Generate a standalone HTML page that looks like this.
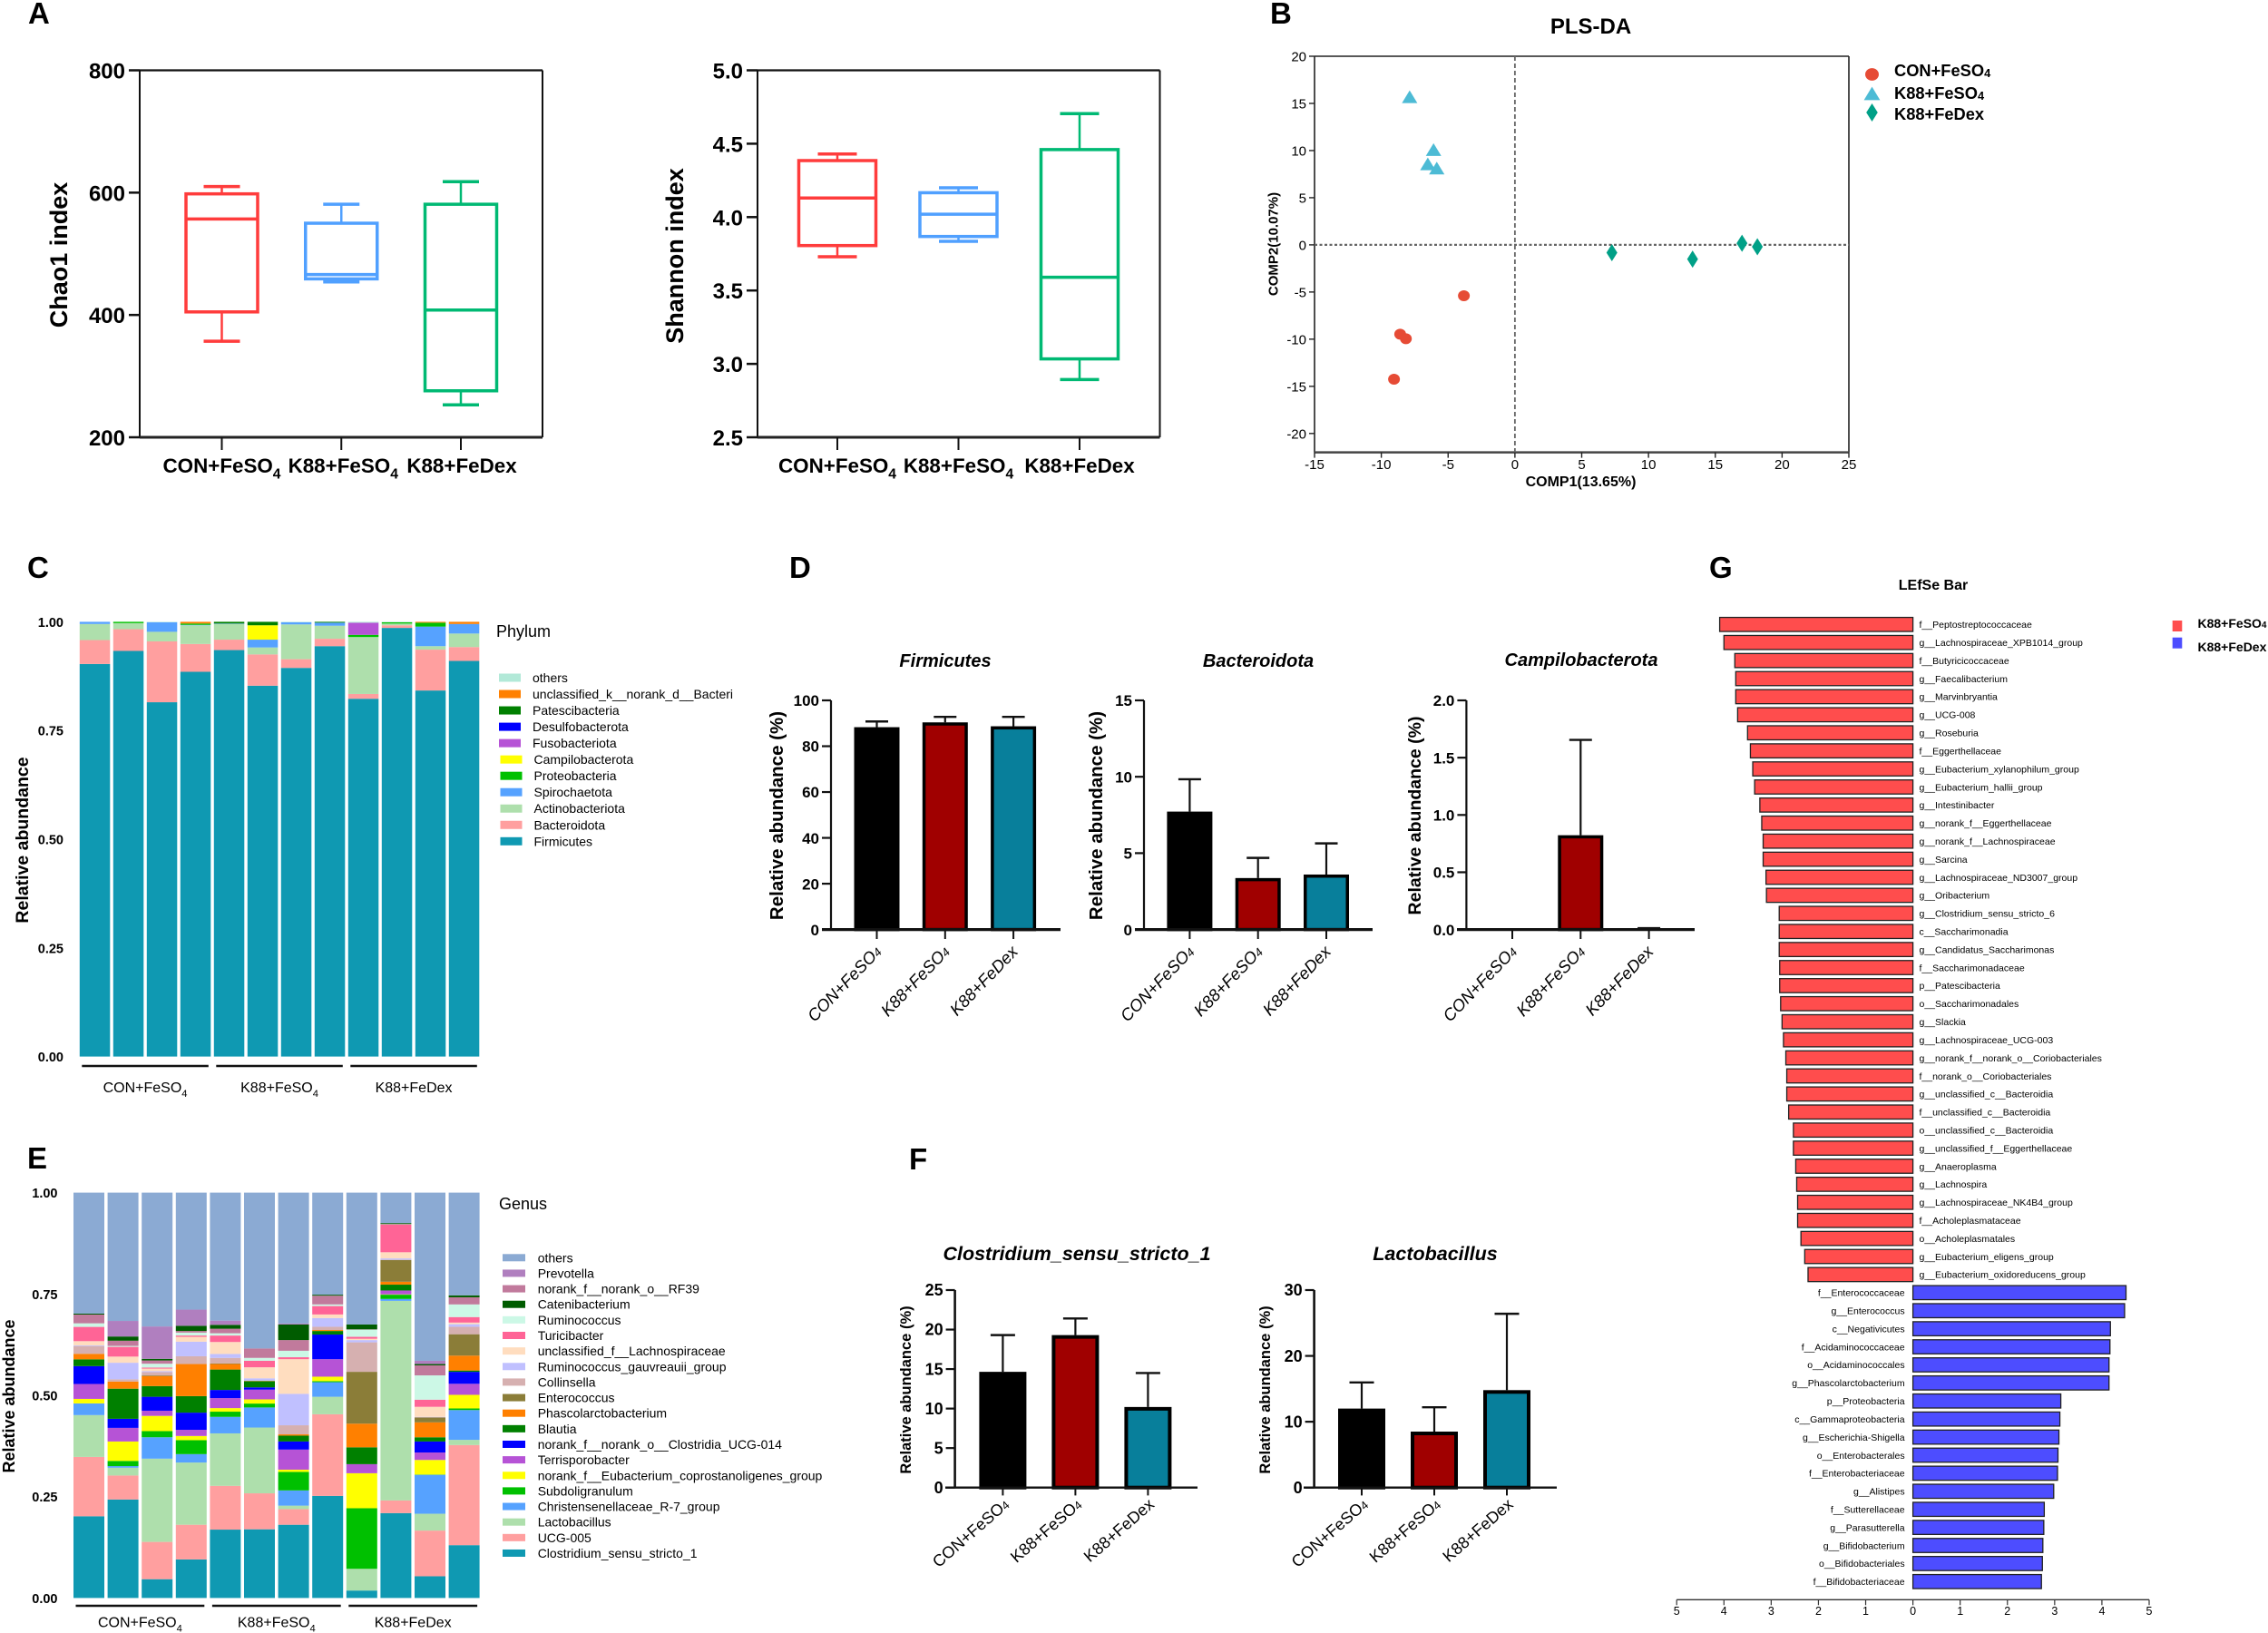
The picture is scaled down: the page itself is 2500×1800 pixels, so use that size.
<!DOCTYPE html>
<html lang="en">
<head>
<meta charset="utf-8">
<title>Gut microbiota composition panels</title>
<style>
html,body{margin:0;padding:0;background:#fff;}
svg{display:block;font-family:"Liberation Sans",Arial,sans-serif;}
</style>
</head>
<body>
<svg id="figure" xmlns="http://www.w3.org/2000/svg" width="2500" height="1800" viewBox="0 0 2500 1800">
<rect x="0" y="0" width="2500" height="1800" fill="#ffffff"/>

<g id="panel-a">
  <text x="31" y="26" font-size="33" font-weight="bold">A</text>
  <text transform="translate(74 281) rotate(-90)" text-anchor="middle" font-size="27" font-weight="bold">Chao1 index</text>
  <text transform="translate(753 282) rotate(-90)" text-anchor="middle" font-size="27" font-weight="bold">Shannon index</text>
</g>

<g id="panel-b">
  <text x="1400" y="26" font-size="33" font-weight="bold">B</text>
  <text x="1753.5" y="37" text-anchor="middle" font-size="24" font-weight="bold">PLS-DA</text>
  <text x="1742.5" y="536" text-anchor="middle" font-size="16" font-weight="bold">COMP1(13.65%)</text>
  <text transform="translate(1408.5 269) rotate(-90)" text-anchor="middle" font-size="15" font-weight="bold">COMP2(10.07%)</text>
</g>

<g id="panel-c">
  <text x="30" y="637" font-size="33" font-weight="bold">C</text>
  <text transform="translate(31 926) rotate(-90)" text-anchor="middle" font-size="19.5" font-weight="bold">Relative abundance</text>
  <text x="547" y="702" font-size="18">Phylum</text>
</g>

<g id="panel-d">
  <text x="870" y="637" font-size="33" font-weight="bold">D</text>
  <text x="1042" y="735" text-anchor="middle" font-size="20" font-weight="bold" font-style="italic">Firmicutes</text>
  <text x="1387" y="735" text-anchor="middle" font-size="20" font-weight="bold" font-style="italic">Bacteroidota</text>
  <text x="1743" y="734" text-anchor="middle" font-size="20" font-weight="bold" font-style="italic">Campilobacterota</text>
  <text transform="translate(863 899) rotate(-90)" text-anchor="middle" font-size="20.5" font-weight="bold">Relative abundance (%)</text>
  <text transform="translate(1215 899) rotate(-90)" text-anchor="middle" font-size="20.5" font-weight="bold">Relative abundance (%)</text>
  <text transform="translate(1566 899) rotate(-90)" text-anchor="middle" font-size="19.5" font-weight="bold">Relative abundance (%)</text>
</g>

<g id="panel-e">
  <text x="30" y="1288" font-size="33" font-weight="bold">E</text>
  <text transform="translate(16 1539) rotate(-90)" text-anchor="middle" font-size="18" font-weight="bold">Relative abundance</text>
  <text x="550" y="1333" font-size="18">Genus</text>
</g>

<g id="panel-f">
  <text x="1002" y="1289" font-size="33" font-weight="bold">F</text>
  <text x="1187" y="1389" text-anchor="middle" font-size="21.5" font-weight="bold" font-style="italic">Clostridium_sensu_stricto_1</text>
  <text x="1582" y="1389" text-anchor="middle" font-size="21.5" font-weight="bold" font-style="italic">Lactobacillus</text>
  <text transform="translate(1004 1532) rotate(-90)" text-anchor="middle" font-size="16.5" font-weight="bold">Relative abundance (%)</text>
  <text transform="translate(1400 1532) rotate(-90)" text-anchor="middle" font-size="16.5" font-weight="bold">Relative abundance (%)</text>
</g>

<g id="panel-g">
  <text x="1884" y="637" font-size="33" font-weight="bold">G</text>
  <text x="2131" y="650" text-anchor="middle" font-size="16" font-weight="bold">LEfSe Bar</text>
</g>
</svg>

<script>
/* ---------- Shared categories ---------- */
const groups = ['CON+FeSO4', 'K88+FeSO4', 'K88+FeDex'];

/* ---------- Panel A: box plots ---------- */
const chao1Ticks = [200, 400, 600, 800];
const chao1Low = [357, 454, 253];
const chao1Q1 = [405, 459, 276];
const chao1Median = [557, 466, 408];
const chao1Q3 = [598, 550, 581];
const chao1High = [610, 581, 618];

const shannonTicks = ['2.5', '3.0', '3.5', '4.0', '4.5', '5.0'];
const shannonLow = [3.73, 3.835, 2.893];
const shannonQ1 = [3.806, 3.868, 3.034];
const shannonMedian = [4.13, 4.02, 3.59];
const shannonQ3 = [4.385, 4.166, 4.46];
const shannonHigh = [4.43, 4.20, 4.705];

/* ---------- Panel B: PLS-DA scatter ---------- */
const plsTicksX = [-15, -10, -5, 0, 5, 10, 15, 20, 25];
const plsTicksY = [-20, -15, -10, -5, 0, 5, 10, 15, 20];
const conComp1 = [-3.82, -8.59, -8.16, -9.05];
const conComp2 = [-5.4, -9.47, -9.95, -14.25];
const k88FeSO4Comp1 = [-7.88, -6.09, -6.52, -5.85];
const k88FeSO4Comp2 = [15.66, 10.05, 8.54, 8.09];
const k88FeDexComp1 = [7.26, 13.3, 17.0, 18.15];
const k88FeDexComp2 = [-0.83, -1.51, 0.17, -0.2];

/* ---------- Panel C: phylum stacks (per-mille of each sample, bottom to top) ---------- */
const stackTicks = ['0.00', '0.25', '0.50', '0.75', '1.00'];
const phylumNames = ['Firmicutes', 'Bacteroidota', 'Actinobacteriota', 'Spirochaetota', 'Proteobacteria', 'Campilobacterota', 'Fusobacteriota', 'Desulfobacterota', 'Patescibacteria', 'unclassified_k__norank_d__Bacteri', 'others'];
const phylumValues = [
  [903, 55, 37, 5, 0, 0, 0, 0, 0, 0, 0],
  [933, 50, 14, 0, 3, 0, 0, 0, 0, 0, 0],
  [815, 140, 22, 22, 0, 0, 0, 0, 0, 0, 1],
  [885, 64, 43, 1, 3, 0, 0, 0, 0, 4, 0],
  [935, 24, 36, 1, 0, 0, 0, 0, 4, 0, 0],
  [853, 72, 16, 18, 0, 33, 0, 0, 8, 0, 0],
  [894, 20, 80, 5, 0, 0, 0, 0, 0, 0, 1],
  [944, 17, 30, 7, 0, 0, 0, 0, 2, 0, 0],
  [823, 11, 131, 0, 5, 0, 28, 0, 0, 0, 2],
  [986, 6, 4, 0, 3, 0, 0, 0, 0, 0, 1],
  [842, 94, 8, 45, 9, 0, 0, 0, 0, 2, 0],
  [910, 32, 31, 22, 0, 0, 0, 0, 0, 5, 0]
];

/* ---------- Panel D: phylum mean bars ---------- */
const firmicutesTicks = [0, 20, 40, 60, 80, 100];
const firmicutesMean = [88.3, 90.4, 88.7];
const firmicutesErr = [2.5, 2.4, 4.1];
const bacteroidotaTicks = [0, 5, 10, 15];
const bacteroidotaMean = [7.72, 3.37, 3.6];
const bacteroidotaErr = [2.12, 1.32, 2.04];
const campiloTicks = ['0.0', '0.5', '1.0', '1.5', '2.0'];
const campiloMean = [0, 0.823, 0.005];
const campiloErr = [0, 0.832, 0.007];

/* ---------- Panel E: genus stacks (relative units per sample, bottom to top) ---------- */
const genusNames = ['Clostridium_sensu_stricto_1', 'UCG-005', 'Lactobacillus', 'Christensenellaceae_R-7_group', 'Subdoligranulum', 'norank_f__Eubacterium_coprostanoligenes_group', 'Terrisporobacter', 'norank_f__norank_o__Clostridia_UCG-014', 'Blautia', 'Phascolarctobacterium', 'Enterococcus', 'Collinsella', 'Ruminococcus_gauvreauii_group', 'unclassified_f__Lachnospiraceae', 'Turicibacter', 'Ruminococcus', 'norank_f__norank_o__RF39', 'Catenibacterium', 'Prevotella', 'others'];
const genusValues = [
  [252, 183, 129, 36, 0, 14, 46, 55, 21, 17, 0, 24, 2, 13, 44, 11, 27, 3, 0, 373],
  [304, 74, 24, 5, 16, 60, 42, 28, 93, 22, 0, 7, 51, 19, 30, 3, 16, 13, 48, 396],
  [58, 115, 257, 66, 19, 47, 16, 43, 33, 31, 2, 10, 3, 8, 3, 12, 10, 5, 100, 413],
  [119, 107, 192, 26, 43, 13, 19, 53, 51, 99, 0, 24, 45, 15, 4, 9, 5, 16, 50, 361],
  [211, 135, 162, 51, 16, 11, 31, 25, 63, 17, 2, 17, 12, 37, 20, 7, 14, 12, 13, 395],
  [212, 111, 203, 62, 12, 13, 30, 7, 19, 1, 0, 1, 7, 34, 20, 9, 29, 0, 0, 481],
  [226, 48, 11, 47, 57, 7, 62, 25, 18, 4, 0, 28, 97, 107, 6, 20, 33, 48, 3, 404],
  [315, 252, 54, 45, 3, 14, 54, 76, 11, 3, 0, 10, 27, 11, 26, 5, 27, 3, 0, 315],
  [23, 0, 67, 0, 187, 108, 28, 0, 52, 73, 160, 91, 7, 4, 6, 22, 1, 15, 0, 407],
  [262, 39, 616, 6, 13, 1, 12, 0, 18, 9, 67, 1, 4, 19, 86, 1, 0, 3, 0, 94],
  [67, 141, 52, 120, 1, 45, 23, 34, 13, 46, 15, 1, 1, 31, 22, 75, 31, 4, 10, 519],
  [163, 309, 16, 92, 5, 42, 34, 37, 4, 46, 66, 23, 8, 5, 17, 39, 22, 6, 0, 317]
];
const genusLegendOrder = ['others', 'Prevotella', 'norank_f__norank_o__RF39', 'Catenibacterium', 'Ruminococcus', 'Turicibacter', 'unclassified_f__Lachnospiraceae', 'Ruminococcus_gauvreauii_group', 'Collinsella', 'Enterococcus', 'Phascolarctobacterium', 'Blautia', 'norank_f__norank_o__Clostridia_UCG-014', 'Terrisporobacter', 'norank_f__Eubacterium_coprostanoligenes_group', 'Subdoligranulum', 'Christensenellaceae_R-7_group', 'Lactobacillus', 'UCG-005', 'Clostridium_sensu_stricto_1'];

/* ---------- Panel F: genus mean bars ---------- */
const clostridiumTicks = [0, 5, 10, 15, 20, 25];
const clostridiumMean = [14.65, 19.3, 10.2];
const clostridiumErr = [4.65, 2.1, 4.3];
const lactobacillusTicks = [0, 10, 20, 30];
const lactobacillusMean = [12.0, 8.5, 14.8];
const lactobacillusErr = [3.97, 3.7, 11.6];

/* ---------- Panel G: LEfSe ---------- */
const lefseTicks = [-5, -4, -3, -2, -1, 0, 1, 2, 3, 4, 5];
const lefseRedLabels = ['f__Peptostreptococcaceae', 'g__Lachnospiraceae_XPB1014_group', 'f__Butyricicoccaceae', 'g__Faecalibacterium', 'g__Marvinbryantia', 'g__UCG-008', 'g__Roseburia', 'f__Eggerthellaceae', 'g__Eubacterium_xylanophilum_group', 'g__Eubacterium_hallii_group', 'g__Intestinibacter', 'g__norank_f__Eggerthellaceae', 'g__norank_f__Lachnospiraceae', 'g__Sarcina', 'g__Lachnospiraceae_ND3007_group', 'g__Oribacterium', 'g__Clostridium_sensu_stricto_6', 'c__Saccharimonadia', 'g__Candidatus_Saccharimonas', 'f__Saccharimonadaceae', 'p__Patescibacteria', 'o__Saccharimonadales', 'g__Slackia', 'g__Lachnospiraceae_UCG-003', 'g__norank_f__norank_o__Coriobacteriales', 'f__norank_o__Coriobacteriales', 'g__unclassified_c__Bacteroidia', 'f__unclassified_c__Bacteroidia', 'o__unclassified_c__Bacteroidia', 'g__unclassified_f__Eggerthellaceae', 'g__Anaeroplasma', 'g__Lachnospira', 'g__Lachnospiraceae_NK4B4_group', 'f__Acholeplasmataceae', 'o__Acholeplasmatales', 'g__Eubacterium_eligens_group', 'g__Eubacterium_oxidoreducens_group'];
const lefseRedValues = [4.09, 4.0, 3.77, 3.75, 3.75, 3.71, 3.50, 3.44, 3.39, 3.35, 3.24, 3.20, 3.17, 3.17, 3.11, 3.10, 2.83, 2.83, 2.83, 2.82, 2.82, 2.80, 2.77, 2.74, 2.69, 2.67, 2.67, 2.63, 2.53, 2.53, 2.48, 2.46, 2.44, 2.44, 2.37, 2.29, 2.22];
const lefseBlueLabels = ['f__Enterococcaceae', 'g__Enterococcus', 'c__Negativicutes', 'f__Acidaminococcaceae', 'o__Acidaminococcales', 'g__Phascolarctobacterium', 'p__Proteobacteria', 'c__Gammaproteobacteria', 'g__Escherichia-Shigella', 'o__Enterobacterales', 'f__Enterobacteriaceae', 'g__Alistipes', 'f__Sutterellaceae', 'g__Parasutterella', 'g__Bifidobacterium', 'o__Bifidobacteriales', 'f__Bifidobacteriaceae'];
const lefseBlueValues = [4.51, 4.48, 4.18, 4.17, 4.15, 4.15, 3.13, 3.11, 3.09, 3.07, 3.06, 2.98, 2.78, 2.77, 2.75, 2.74, 2.72];

/* ---------- Colours ---------- */
const boxColors = ['#FF3C3C', '#50A0FF', '#00B973'];
const barColors = ['#000000', '#A00000', '#087F9B'];
const plsColors = ['#E64B35', '#4DBBD5', '#00A087'];
const phylumColors = ['#0F99B2', '#FF9F9F', '#AEDFAC', '#56A2FF', '#00C000', '#FFFF00', '#B653D6', '#0000FF', '#008000', '#FF8000', '#B2E9D8'];
const genusColors = ['#0F99B2', '#FF9F9F', '#AEDFAC', '#56A2FF', '#00C000', '#FFFF00', '#B653D6', '#0000FF', '#008000', '#FF8000', '#8B7D38', '#D6B0B0', '#C0C0FF', '#FFDDBF', '#FF6496', '#CCF8E6', '#C17A9C', '#005C00', '#B07FBF', '#8BAAD3'];

/* ---------- Helpers ---------- */
const NS = 'http://www.w3.org/2000/svg';
function slug(s) {
  return String(s).toLowerCase().replace(/[^a-z0-9]+/g, '-').replace(/^-|-$/g, '');
}
function linear(d0, d1, r0, r1) {
  return function (v) { return r0 + (v - d0) / (d1 - d0) * (r1 - r0); };
}
function mk(tag, parent, name) {
  const el = document.createElementNS(NS, tag);
  
  
  parent.appendChild(el);
  return el;
}
function line(parent, name, x1, y1, x2, y2, stroke, width, dash) {
  const el = mk('line', parent, name);
  el.setAttribute('x1', x1);
  el.setAttribute('y1', y1);
  el.setAttribute('x2', x2);
  el.setAttribute('y2', y2);
  el.setAttribute('stroke', stroke);
  el.setAttribute('stroke-width', width);
  if (dash) el.setAttribute('stroke-dasharray', dash);
  return el;
}
function rect(parent, name, x, y, w, h, fill, stroke, width) {
  const el = mk('rect', parent, name);
  el.setAttribute('x', x);
  el.setAttribute('y', y);
  el.setAttribute('width', w);
  el.setAttribute('height', h);
  el.setAttribute('fill', fill);
  if (stroke) {
    el.setAttribute('stroke', stroke);
    el.setAttribute('stroke-width', width);
  }
  return el;
}
function poly(parent, name, pts, fill) {
  const el = mk('polygon', parent, name);
  el.setAttribute('points', pts.map(function (p) { return p[0] + ',' + p[1]; }).join(' '));
  el.setAttribute('fill', fill);
  return el;
}
function text(parent, name, x, y, str, o) {
  const opt = o || {};
  const el = mk('text', parent, name);
  el.setAttribute('x', x);
  el.setAttribute('y', y);
  el.setAttribute('font-size', opt.size || 14);
  if (opt.weight) el.setAttribute('font-weight', opt.weight);
  if (opt.italic) el.setAttribute('font-style', 'italic');
  if (opt.anchor) el.setAttribute('text-anchor', opt.anchor);
  if (opt.rot) el.setAttribute('transform', 'rotate(' + opt.rot + ' ' + x + ' ' + y + ')');
  const s = String(str);
  if (/SO4$/.test(s)) {
    el.appendChild(document.createTextNode(s.slice(0, -1)));
    const sub = document.createElementNS(NS, 'tspan');
    sub.setAttribute('font-size', (opt.size || 14) * 0.7);
    sub.setAttribute('dy', (opt.subShift === undefined ? 0.25 : opt.subShift) * (opt.size || 14));
    sub.textContent = '4';
    el.appendChild(sub);
  } else {
    el.textContent = s;
  }
  return el;
}
function layer(id) {
  return document.getElementById(id);
}

/* ---------- Panel A drawing ---------- */
function drawBoxPlot(parent, id, cfg, ticks, low, q1, med, q3, high) {
  const y = linear(cfg.min, cfg.max, cfg.bottom, cfg.top);
  const x = function (i) { return cfg.catStart + i * cfg.catStep; };
  line(parent, id + '-axis-left', cfg.left, cfg.top, cfg.left, cfg.bottom, '#111', 2);
  line(parent, id + '-axis-right', cfg.right, cfg.top, cfg.right, cfg.bottom, '#111', 2);
  line(parent, id + '-axis-top', cfg.left, cfg.top, cfg.right, cfg.top, '#111', 2.2);
  line(parent, id + '-axis-bottom', cfg.left, cfg.bottom, cfg.right, cfg.bottom, '#222', 3);
  ticks.forEach(function (t) {
    const v = parseFloat(t);
    line(parent, id + '-y-tick', cfg.left - 12, y(v), cfg.left, y(v), '#111', 2.5);
    text(parent, id + '-y-tick-label', cfg.left - 16, y(v) + 9, t, { size: 24, weight: 'bold', anchor: 'end' });
  });
  groups.forEach(function (g, i) {
    const cx = x(i);
    const c = boxColors[i];
    const gn = slug(g);
    line(parent, id + '-x-tick', cx, cfg.bottom, cx, cfg.bottom + 14, '#111', 2);
    text(parent, id + '-x-label', cx + cfg.labelDx[i], 521, g, { size: 22.4, weight: 'bold', anchor: 'middle', subShift: 0.3 });
    line(parent, id + '-whisker-' + gn, cx, y(low[i]), cx, y(q1[i]), c, 2.5);
    line(parent, id + '-whisker-' + gn, cx, y(q3[i]), cx, y(high[i]), c, 2.5);
    line(parent, id + '-cap-low-' + gn, cx - cfg.cap / 2, y(low[i]), cx + cfg.cap / 2, y(low[i]), c, 3.5);
    line(parent, id + '-cap-high-' + gn, cx - cfg.cap / 2, y(high[i]), cx + cfg.cap / 2, y(high[i]), c, 3.5);
    rect(parent, id + '-box-' + gn, cx - cfg.box / 2, y(q3[i]), cfg.box, y(q1[i]) - y(q3[i]), 'none', c, 3.5);
    line(parent, id + '-median-' + gn, cx - cfg.box / 2, y(med[i]), cx + cfg.box / 2, y(med[i]), c, 3.5);
  });
}
drawBoxPlot(layer('panel-a'), 'chao1',
  { min: 200, max: 800, top: 77.5, bottom: 482, left: 154, right: 598, catStart: 244.5, catStep: 131.75, box: 79, cap: 40, labelDx: [0, 2, 1] },
  chao1Ticks, chao1Low, chao1Q1, chao1Median, chao1Q3, chao1High);
drawBoxPlot(layer('panel-a'), 'shannon',
  { min: 2.5, max: 5, top: 77.5, bottom: 482, left: 835, right: 1278.5, catStart: 923, catStep: 133.5, box: 85, cap: 43, labelDx: [0, 0, 0] },
  shannonTicks, shannonLow, shannonQ1, shannonMedian, shannonQ3, shannonHigh);

/* ---------- Panel B drawing ---------- */
(function () {
  const g = layer('panel-b');
  const xS = linear(-15, 25, 1449, 2038);
  const yS = linear(20, -22, 62, 498.6);
  const L = xS(-15), R = xS(25), T = yS(20), B = yS(-22);
  line(g, 'pls-axis-left', L, T, L, B, '#222', 1.6);
  line(g, 'pls-axis-right', R, T, R, B, '#222', 1.6);
  line(g, 'pls-axis-top', L, T, R, T, '#222', 1.6);
  line(g, 'pls-axis-bottom', L, B, R, B, '#444', 2.5);
  plsTicksX.forEach(function (t) {
    line(g, 'pls-x-tick', xS(t), B, xS(t), B + 6, '#222', 1.4);
    text(g, 'pls-x-tick-label', xS(t), 517, t, { size: 15, anchor: 'middle' });
  });
  plsTicksY.forEach(function (t) {
    line(g, 'pls-y-tick', L - 6, yS(t), L, yS(t), '#222', 1.4);
    text(g, 'pls-y-tick-label', L - 9, yS(t) + 5.5, t, { size: 15, anchor: 'end' });
  });
  line(g, 'pls-zero-line-horizontal', L, yS(0), R, yS(0), '#666', 2.2, '3 2.5');
  line(g, 'pls-zero-line-vertical', xS(0), T, xS(0), B, '#666', 1.8, '5 3');

  function circle(parent, name, cx, cy, k) {
    const el = mk('ellipse', parent, name);
    el.setAttribute('cx', cx);
    el.setAttribute('cy', cy);
    el.setAttribute('rx', 6.5 * k);
    el.setAttribute('ry', 6 * k);
    el.setAttribute('fill', plsColors[0]);
  }
  function tri(parent, name, cx, cy, k) {
    poly(parent, name, [[cx, cy - 7.5 * k], [cx + 8.5 * k, cy + 6.5 * k], [cx - 8.5 * k, cy + 6.5 * k]], plsColors[1]);
  }
  function dia(parent, name, cx, cy, k) {
    poly(parent, name, [[cx, cy - 9.5 * k], [cx + 6 * k, cy], [cx, cy + 9.5 * k], [cx - 6 * k, cy]], plsColors[2]);
  }
  conComp1.forEach(function (v, i) { circle(g, 'point-con-feso4', xS(v), yS(conComp2[i]), 1); });
  k88FeSO4Comp1.forEach(function (v, i) { tri(g, 'point-k88-feso4', xS(v), yS(k88FeSO4Comp2[i]), 1); });
  k88FeDexComp1.forEach(function (v, i) { dia(g, 'point-k88-fedex', xS(v), yS(k88FeDexComp2[i]), 1); });

  circle(g, 'legend-marker-con-feso4', 2063.5, 82, 1.15);
  tri(g, 'legend-marker-k88-feso4', 2063.5, 103.5, 1.05);
  dia(g, 'legend-marker-k88-fedex', 2063.5, 124, 1.05);
  text(g, 'legend-label-con-feso4', 2088, 84, groups[0], { size: 18.3, weight: 'bold', subShift: 0.05 });
  text(g, 'legend-label-k88-feso4', 2088, 109, groups[1], { size: 18.3, weight: 'bold', subShift: 0.05 });
  text(g, 'legend-label-k88-fedex', 2088, 132, groups[2], { size: 18.3, weight: 'bold' });
})();

/* ---------- Stacked charts (panels C and E) ---------- */
function drawStack(parent, id, cfg, values, names, colors) {
  const y = linear(0, 1, cfg.zero, cfg.one);
  values.forEach(function (sample, i) {
    const total = sample.reduce(function (a, b) { return a + b; }, 0);
    const x = cfg.start + i * cfg.step;
    let acc = 0;
    sample.forEach(function (v, s) {
      if (v > 0) {
        const top = y((acc + v) / total);
        const bot = y(acc / total);
        rect(parent, id + '-segment-' + slug(names[s]), x, top, cfg.width, bot - top, colors[s]);
      }
      acc += v;
    });
  });
  stackTicks.forEach(function (t) {
    text(parent, id + '-y-tick-label', cfg.labelX, y(parseFloat(t)) + 5.5, t, { size: 14.5, weight: 'bold', anchor: 'end' });
  });
  groups.forEach(function (g, k) {
    const a = cfg.start + k * 4 * cfg.step + 2.5;
    const b = cfg.start + (k * 4 + 3) * cfg.step + cfg.width - 2.5;
    line(parent, id + '-group-bracket-' + slug(g), a, cfg.bracketY, b, cfg.bracketY, '#111', 2.6);
    text(parent, id + '-group-label-' + slug(g), (a + b) / 2, cfg.labelY, g, { size: 16, anchor: 'middle', subShift: 0.3 });
  });
}
drawStack(layer('panel-c'), 'phylum',
  { zero: 1164.6, one: 685.4, start: 87.8, step: 37.0, width: 33.5, labelX: 70, bracketY: 1175, labelY: 1204 },
  phylumValues, phylumNames, phylumColors);
drawStack(layer('panel-e'), 'genus',
  { zero: 1761.4, one: 1314.6, start: 81, step: 37.6, width: 34, labelX: 63.5, bracketY: 1770, labelY: 1793.5 },
  genusValues, genusNames, genusColors);

(function () {
  const g = layer('panel-c');
  phylumNames.slice().reverse().forEach(function (n, i) {
    const c = phylumColors[phylumNames.length - 1 - i];
    const cy = 747 + i * 18.03;
    const dx = i < 5 ? 0 : 1.5;
    rect(g, 'legend-swatch-' + slug(n), 550 + dx, cy - 4.5, 24, 9, c);
    text(g, 'legend-label-' + slug(n), 587 + dx, cy + 5, n, { size: 14 });
  });
})();
(function () {
  const g = layer('panel-e');
  genusLegendOrder.forEach(function (n, i) {
    const c = genusColors[genusNames.indexOf(n)];
    const cy = 1386.3 + i * 17.14;
    rect(g, 'legend-swatch-' + slug(n), 554, cy - 4, 25, 8, c);
    text(g, 'legend-label-' + slug(n), 592.7, cy + 5, n, { size: 14 });
  });
})();

/* ---------- Mean bars with error (panels D and F) ---------- */
function drawBars(parent, id, cfg, ticks, means, errs) {
  const y = linear(cfg.min, cfg.max, cfg.zero, cfg.top);
  line(parent, id + '-y-axis', cfg.axisX, cfg.top, cfg.axisX, cfg.zero, '#111', cfg.axisW);
  ticks.forEach(function (t) {
    const v = parseFloat(t);
    line(parent, id + '-y-tick', cfg.axisX - 10, y(v), cfg.axisX, y(v), '#111', 2.2);
    text(parent, id + '-y-tick-label', cfg.axisX - 13, y(v) + 6.2, t, { size: cfg.tickSize, weight: 'bold', anchor: 'end' });
  });
  groups.forEach(function (g, i) {
    const cx = cfg.catStart + i * cfg.catStep;
    const gn = slug(g);
    line(parent, id + '-error-bar-' + gn, cx, y(means[i]), cx, y(means[i] + errs[i]), '#111', 2.2);
    line(parent, id + '-error-cap-' + gn, cx - cfg.cap / 2, y(means[i] + errs[i]), cx + cfg.cap / 2, y(means[i] + errs[i]), '#111', 2.4);
    if (means[i] > 0.02 * cfg.max) {
      rect(parent, id + '-bar-' + gn, cx - cfg.barW / 2 + cfg.stroke / 2, y(means[i]) + cfg.stroke / 2, cfg.barW - cfg.stroke, y(0) - y(means[i]) - cfg.stroke / 2, barColors[i], '#000', cfg.stroke);
    }
    line(parent, id + '-x-tick', cx, cfg.zero, cx, cfg.zero + cfg.tickLen, '#111', 2);
    text(parent, id + '-x-label-' + gn, cx + cfg.labelDx, cfg.labelY, g, { size: cfg.labelSize, weight: cfg.labelWeight, italic: cfg.italic, anchor: 'end', rot: cfg.labelRot, subShift: 0.02 });
  });
  line(parent, id + '-x-axis', cfg.x0, cfg.zero, cfg.x1, cfg.zero, '#111', cfg.xAxisW);
}
const dCommon = { zero: 1024.6, top: 772, barW: 50, cap: 25, stroke: 3.5, axisW: 2.2, xAxisW: 3.2, tickSize: 17, tickLen: 10.4, labelY: 1050, labelDx: 6, labelRot: -46, labelSize: 18.5, labelWeight: 'normal', italic: true, catStep: 75.3 };
const fCommon = { zero: 1639.7, top: 1422, barW: 52, cap: 27, stroke: 4, axisW: 2.6, xAxisW: 2.4, tickSize: 18, tickLen: 8.7, labelY: 1660, labelDx: 8, labelRot: -41, labelSize: 18, labelWeight: 'normal', italic: false, catStep: 80 };
drawBars(layer('panel-d'), 'firmicutes', Object.assign({}, dCommon, { min: 0, max: 100, axisX: 916, x0: 906, x1: 1169, catStart: 966.5 }), firmicutesTicks, firmicutesMean, firmicutesErr);
drawBars(layer('panel-d'), 'bacteroidota', Object.assign({}, dCommon, { min: 0, max: 15, axisX: 1261, x0: 1251, x1: 1513, catStart: 1311.4 }), bacteroidotaTicks, bacteroidotaMean, bacteroidotaErr);
drawBars(layer('panel-d'), 'campilobacterota', Object.assign({}, dCommon, { min: 0, max: 2, axisX: 1616.4, x0: 1606, x1: 1868, catStart: 1667 }), campiloTicks, campiloMean, campiloErr);
drawBars(layer('panel-f'), 'clostridium', Object.assign({}, fCommon, { min: 0, max: 25, axisX: 1052.6, x0: 1042, x1: 1320, catStart: 1105.4 }), clostridiumTicks, clostridiumMean, clostridiumErr);
drawBars(layer('panel-f'), 'lactobacillus', Object.assign({}, fCommon, { min: 0, max: 30, axisX: 1448.6, x0: 1437, x1: 1716, catStart: 1501 }), lactobacillusTicks, lactobacillusMean, lactobacillusErr);

/* ---------- Panel G drawing ---------- */
(function () {
  const g = layer('panel-g');
  const x = linear(0, 5, 2108.6, 2369);
  const rowY = function (i) { return 688.3 + i * 19.906; };
  const h = 15.5;
  lefseRedLabels.forEach(function (n, i) {
    const left = x(-lefseRedValues[i]);
    rect(g, 'lefse-bar-' + slug(n), left, rowY(i) - h / 2, x(0) - left, h, '#FF4D4D', '#222', 1.3);
    text(g, 'lefse-label-' + slug(n), 2115.5, rowY(i) + 3.8, n, { size: 10.5 });
  });
  lefseBlueLabels.forEach(function (n, i) {
    const row = lefseRedLabels.length + i;
    rect(g, 'lefse-bar-' + slug(n), x(0), rowY(row) - h / 2, x(lefseBlueValues[i]) - x(0), h, '#4D4DFF', '#222', 1.3);
    text(g, 'lefse-label-' + slug(n), 2099.6, rowY(row) + 3.8, n, { size: 10.5, anchor: 'end' });
  });
  const axisY = 1763.3;
  line(g, 'lefse-x-axis', x(-5), axisY, x(5), axisY, '#333', 1.4);
  lefseTicks.forEach(function (t) {
    line(g, 'lefse-x-tick', x(t), axisY, x(t), axisY + 6, '#333', 1.2);
    text(g, 'lefse-x-tick-label', x(t), 1780, Math.abs(t), { size: 12.5, anchor: 'middle' });
  });
  rect(g, 'lefse-legend-swatch-k88-feso4', 2394.7, 684, 10.6, 12, '#FF4D4D');
  rect(g, 'lefse-legend-swatch-k88-fedex', 2394.7, 702.7, 10.6, 12, '#4D4DFF');
  text(g, 'lefse-legend-label-k88-feso4', 2422.5, 692, 'K88+FeSO4', { size: 14, weight: 'bold', subShift: 0 });
  text(g, 'lefse-legend-label-k88-fedex', 2422.5, 718, 'K88+FeDex', { size: 14, weight: 'bold' });
})();
</script>
</body>
</html>
